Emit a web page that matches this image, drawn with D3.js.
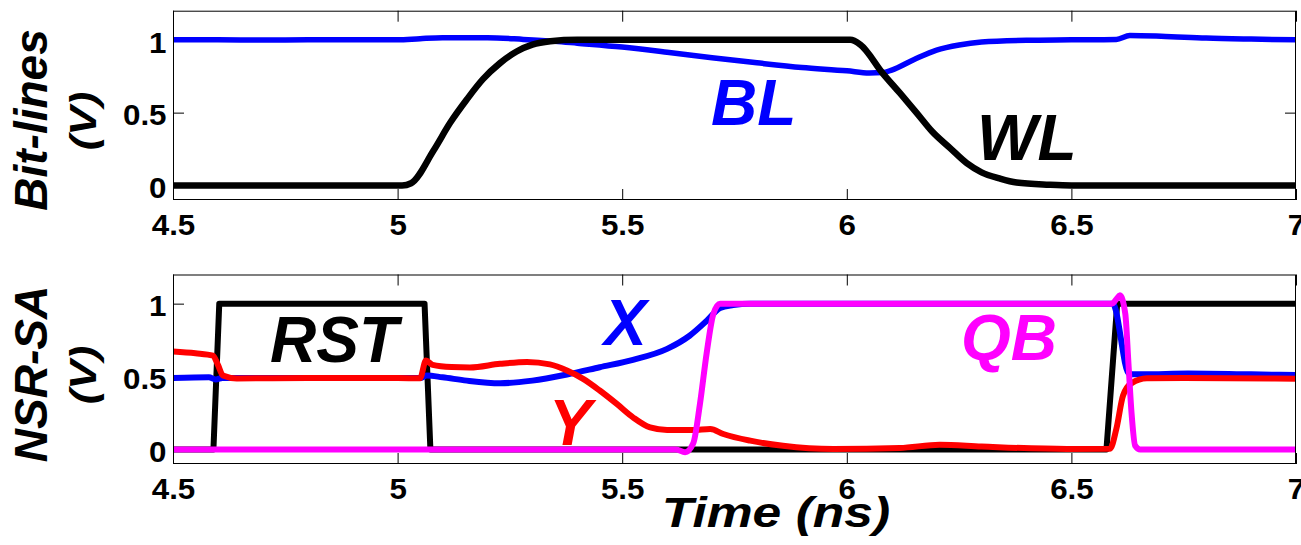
<!DOCTYPE html>
<html>
<head>
<meta charset="utf-8">
<script src="https://cdn.jsdelivr.net/npm/d3@7"></script>
<style>
  html, body { margin: 0; padding: 0; background: #fff; }
  svg { display: block; }
</style>
</head>
<body>
<script>
// ---------------- DATA ----------------
const timeTicks = [4.5, 5, 5.5, 6, 6.5, 7];
const voltTicks = [0, 0.5, 1];

// Top panel: Bit-lines
const blTime = [4.5,4.6,4.7,4.8,4.9,5.0,5.05,5.1,5.2,5.28,5.35,5.4,5.5,5.6,5.7,5.8,5.9,6.0,6.05,6.08,6.1,6.15,6.2,6.25,6.3,6.4,6.5,6.6,6.63,6.7,6.8,6.9,7.0];
const blVolt = [1.0,1.0,0.998,1.0,1.0,1.0,1.008,1.014,1.014,1.003,0.99,0.977,0.95,0.915,0.877,0.842,0.81,0.787,0.772,0.775,0.792,0.865,0.93,0.965,0.985,0.997,1.0,1.003,1.03,1.025,1.012,1.005,1.0];

const wlTime = [4.5,5.0,5.01,5.03,5.08,5.117,5.154,5.19,5.228,5.265,5.30,5.34,5.4,5.5,6.0,6.008,6.03,6.08,6.118,6.155,6.19,6.23,6.267,6.30,6.34,6.378,6.45,6.5,7.0];
const wlVolt = [0,0,0,0.015,0.24,0.43,0.59,0.73,0.84,0.92,0.967,0.99,1.0,1.0,1.0,1.0,0.967,0.77,0.635,0.5,0.37,0.256,0.153,0.09,0.048,0.02,0.005,0,0];

// Bottom panel: NSR-SA
const rstTime = [4.5,4.59,4.603,5.06,5.073,6.578,6.602,7.0];
const rstVolt = [0,0,1,1,0,0,1,1];

const xTime = [4.5,4.58,4.595,4.61,4.64,4.8,5.0,5.05,5.065,5.1,5.154,5.228,5.30,5.377,5.45,5.524,5.60,5.65,5.689,5.718,5.747,5.785,5.85,6.0,6.5,6.592,6.628,6.64,6.66,6.76,6.9,7.0];
const xVolt = [0.49,0.495,0.48,0.49,0.49,0.49,0.49,0.49,0.507,0.495,0.472,0.454,0.472,0.514,0.564,0.615,0.69,0.78,0.885,0.97,0.99,1.0,1.0,1.0,1.0,1.0,0.52,0.515,0.515,0.52,0.515,0.51];

const yTime = [4.5,4.55,4.589,4.6,4.611,4.642,4.8,5.0,5.05,5.063,5.078,5.12,5.161,5.228,5.288,5.339,5.377,5.413,5.45,5.488,5.524,5.562,5.60,5.658,5.696,5.725,5.785,5.858,5.97,6.118,6.207,6.30,6.49,6.586,6.6,6.615,6.634,6.668,6.75,7.0];
const yVolt = [0.672,0.66,0.644,0.58,0.507,0.487,0.49,0.49,0.488,0.61,0.58,0.565,0.562,0.587,0.6,0.583,0.541,0.484,0.404,0.312,0.22,0.151,0.133,0.133,0.14,0.106,0.06,0.025,0.003,0.01,0.032,0.02,0.003,0.005,0.14,0.37,0.455,0.488,0.49,0.485];

const qbTime = [4.5,5.62,5.64,5.658,5.673,5.688,5.703,5.718,5.75,6.0,6.59,6.6,6.608,6.62,6.627,6.634,6.642,6.653,7.0];
const qbVolt = [0,0,-0.02,0.04,0.31,0.66,0.93,1.0,1.0,1.0,1.0,1.03,1.057,0.93,0.59,0.245,0.025,0.0,0];

// ---------------- CHART ----------------
const W = 1301, H = 545;
const FONT = "'Liberation Sans', Arial, Helvetica, sans-serif";
const svg = d3.select("body").append("svg").attr("width", W).attr("height", H);

const x = d3.scaleLinear().domain([4.5, 7]).range([173, 1296]);

function panel(idx, top, bottom, series, yTitle, yTitleY, annotations) {
  const y = d3.scaleLinear().domain([-0.1, 1.2]).range([bottom, top]);
  const clipId = "clip" + idx;
  svg.append("clipPath").attr("id", clipId)
    .append("rect").attr("x", x.range()[0]).attr("y", top)
    .attr("width", x.range()[1] - x.range()[0]).attr("height", bottom - top);

  // bottom axis with labels
  const gb = svg.append("g").attr("transform", `translate(0,${bottom})`)
    .call(d3.axisBottom(x).tickValues(timeTicks).tickSizeInner(-11).tickSizeOuter(0).tickPadding(0).tickFormat(d => d));
  gb.select(".domain").remove();
  gb.attr("font-size", 29).attr("font-family", FONT).attr("font-weight", "bold");
  gb.selectAll("text").attr("y", 35.5).attr("dy", null).attr("fill", "#000").attr("transform", "scale(1.08,1)");

  // top axis mirror ticks
  const gt = svg.append("g").attr("transform", `translate(0,${top})`)
    .call(d3.axisTop(x).tickValues(timeTicks).tickSizeInner(-11).tickSizeOuter(0).tickFormat(""));
  gt.select(".domain").remove();

  // left axis
  const gl = svg.append("g").attr("transform", `translate(${x.range()[0]},0)`)
    .call(d3.axisLeft(y).tickValues(voltTicks).tickSizeInner(-11).tickSizeOuter(0).tickPadding(6).tickFormat(d => d));
  gl.select(".domain").remove();
  gl.attr("font-size", 29).attr("font-family", FONT).attr("font-weight", "bold");
  gl.selectAll("text").attr("dy", "0.42em").attr("fill", "#000").attr("transform", "scale(1.08,1)");

  // right axis mirror ticks
  const gr = svg.append("g").attr("transform", `translate(${x.range()[1]},0)`)
    .call(d3.axisRight(y).tickValues(voltTicks).tickSizeInner(-11).tickSizeOuter(0).tickFormat(""));
  gr.select(".domain").remove();

  // series
  const g = svg.append("g").attr("clip-path", `url(#${clipId})`);
  series.forEach(s => {
    const line = d3.line().x(d => x(d[0])).y(d => y(d[1]))
      .curve(s.linear ? d3.curveLinear : d3.curveMonotoneX);
    g.append("path").datum(d3.zip(s.t, s.v))
      .attr("d", line).attr("fill", "none").attr("stroke", s.color)
      .attr("stroke-width", s.w).attr("stroke-linejoin", "round");
  });

  // frame
  svg.append("rect").attr("x", x.range()[0] + 0.5).attr("y", top + 0.5)
    .attr("width", x.range()[1] - x.range()[0] - 1).attr("height", bottom - top - 1)
    .attr("fill", "none").attr("stroke", "#000").attr("stroke-width", 1);

  // y title (two lines, rotated)
  svg.append("text").attr("transform", `translate(47,${yTitleY}) rotate(-90)`)
    .attr("text-anchor", "middle").attr("font-family", FONT).attr("font-weight", "bold")
    .attr("font-style", "italic").attr("font-size", 46).text(yTitle);
  svg.append("text").attr("transform", `translate(96,${yTitleY + 1}) rotate(-90) scale(1,0.85)`)
    .attr("text-anchor", "middle").attr("font-family", FONT).attr("font-weight", "bold")
    .attr("font-style", "italic").attr("font-size", 44).text("(V)");

  // annotations
  annotations.forEach(a => {
    svg.append("text").attr("x", a.x).attr("y", a.y).attr("fill", a.color)
      .attr("font-family", FONT).attr("font-weight", "bold").attr("font-style", "italic")
      .attr("font-size", 64).text(a.text);
  });
}

panel(0, 10.7, 200,
  [
    { t: blTime, v: blVolt, color: "#0000ff", w: 5.5 },
    { t: wlTime, v: wlVolt, color: "#000000", w: 6.5 }
  ],
  "Bit-lines", 120,
  [
    { text: "BL", x: 711, y: 125, color: "#0000ff" },
    { text: "WL", x: 977, y: 160, color: "#000000" }
  ]);

panel(1, 274.5, 464,
  [
    { t: rstTime, v: rstVolt, color: "#000000", w: 6, linear: true },
    { t: xTime, v: xVolt, color: "#0000ff", w: 6 },
    { t: yTime, v: yVolt, color: "#ff0000", w: 6 },
    { t: qbTime, v: qbVolt, color: "#ff00ff", w: 6 }
  ],
  "NSR-SA", 374,
  [
    { text: "RST", x: 270, y: 362, color: "#000000" },
    { text: "X", x: 604, y: 345, color: "#0000ff" },
    { text: "Y", x: 549, y: 445, color: "#ff0000" },
    { text: "QB", x: 961, y: 360, color: "#ff00ff" }
  ]);

// x-axis title
svg.append("text").attr("transform", "translate(776,527) scale(1.2,1)")
  .attr("text-anchor", "middle").attr("font-family", FONT).attr("font-weight", "bold")
  .attr("font-style", "italic").attr("font-size", 43).text("Time (ns)");
</script>
</body>
</html>
